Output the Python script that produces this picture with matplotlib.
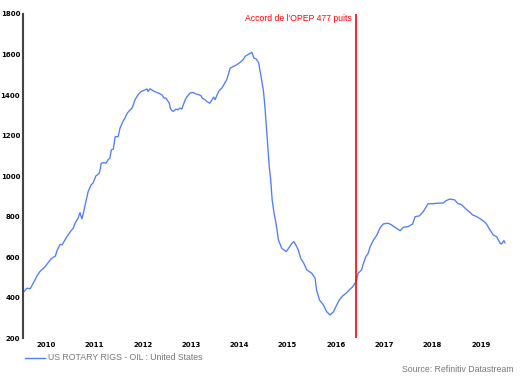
import matplotlib
matplotlib.use("Agg")
import matplotlib.pyplot as plt

# decimal years and US oil rig counts
years = [2010.02, 2010.10, 2010.17, 2010.23, 2010.31, 2010.37, 2010.48, 2010.54, 2010.60, 2010.64,
         2010.69, 2010.73, 2010.79, 2010.83, 2010.91, 2011.00, 2011.06, 2011.10, 2011.16, 2011.20,
         2011.24, 2011.27, 2011.33, 2011.37, 2011.43, 2011.47, 2011.53, 2011.60, 2011.62, 2011.64,
         2011.70, 2011.74, 2011.78, 2011.82, 2011.85, 2011.89, 2011.93, 2011.99, 2012.03, 2012.09,
         2012.13, 2012.18, 2012.24, 2012.28, 2012.34, 2012.40, 2012.47, 2012.55, 2012.59, 2012.61,
         2012.65, 2012.74, 2012.82, 2012.86, 2012.90, 2012.94, 2012.98, 2013.05, 2013.07, 2013.09,
         2013.13, 2013.19, 2013.23, 2013.27, 2013.31, 2013.34, 2013.38, 2013.42, 2013.48, 2013.54,
         2013.60, 2013.67, 2013.71, 2013.73, 2013.79, 2013.83, 2013.89, 2013.97, 2014.00, 2014.07,
         2014.14, 2014.24, 2014.31, 2014.45, 2014.54, 2014.58, 2014.62, 2014.68, 2014.76, 2014.80,
         2014.85, 2014.90, 2014.95, 2015.00, 2015.03, 2015.08, 2015.12, 2015.15, 2015.18, 2015.22,
         2015.26, 2015.31, 2015.38, 2015.47, 2015.52, 2015.59, 2015.63, 2015.67, 2015.72, 2015.77,
         2015.83, 2015.90, 2015.95, 2016.00, 2016.07, 2016.10, 2016.16, 2016.24, 2016.31, 2016.38,
         2016.45, 2016.50, 2016.57, 2016.64, 2016.71, 2016.78, 2016.85, 2016.92, 2016.96, 2017.03,
         2017.07, 2017.12, 2017.17, 2017.21, 2017.28, 2017.35, 2017.41, 2017.48, 2017.58, 2017.65,
         2017.72, 2017.83, 2017.90, 2018.00, 2018.09, 2018.14, 2018.23, 2018.31, 2018.41, 2018.52,
         2018.62, 2018.72, 2018.79, 2018.86, 2018.96, 2019.03, 2019.10, 2019.17, 2019.26, 2019.33,
         2019.42, 2019.50, 2019.57, 2019.62, 2019.69, 2019.76, 2019.83, 2019.90, 2019.93, 2019.98,
         2020.00]
rigs = [425, 447, 445, 471, 508, 529, 554, 573, 592, 598,
        606, 636, 664, 661, 694, 726, 743, 768, 793, 820,
        789, 817, 883, 924, 957, 966, 1001, 1015, 1036, 1064,
        1067, 1064, 1080, 1089, 1130, 1133, 1195, 1195, 1237, 1270,
        1286, 1311, 1327, 1336, 1377, 1401, 1418, 1426, 1430, 1418,
        1431, 1418, 1410, 1406, 1401, 1385, 1385, 1360, 1336, 1327,
        1319, 1331, 1327, 1336, 1331, 1352, 1377, 1393, 1410, 1413,
        1406, 1401, 1396, 1385, 1377, 1368, 1360, 1390, 1378, 1418,
        1435, 1476, 1533, 1550, 1566, 1575, 1591, 1600, 1611, 1583,
        1578, 1560, 1492, 1420, 1344, 1179, 1047, 982, 883, 817,
        768, 685, 644, 628, 644, 669, 677, 661, 636, 595,
        573, 537, 529, 521, 496, 439, 389, 365, 331, 315,
        331, 356, 389, 409, 422, 439, 455, 480, 521, 537,
        570, 603, 620, 652, 685, 710, 743, 764, 768, 760,
        748, 731, 748, 751, 764, 800, 804, 825, 864, 864,
        867, 867, 880, 887, 883, 864, 860, 843, 825, 809,
        800, 788, 776, 764, 735, 710, 701, 669, 665, 682,
        672]

year_labels = ["2010", "2011", "2012", "2013", "2014", "2015", "2016", "2017", "2018", "2019"]
y_ticks = [200, 400, 600, 800, 1000, 1200, 1400, 1600, 1800]
opec_date = 2016.915
opec_label = "Accord de l'OPEP 477 puits"
series_label = "US ROTARY RIGS - OIL : United States"
source_label = "Source: Refinitiv Datastream"

W, H = 520, 377
fig = plt.figure(figsize=(W / 100, H / 100), dpi=100)
x0, x1 = 23, 509.7
y_top, y_bot = 14, 338.3
ax = fig.add_axes([x0 / W, 1 - y_bot / H, (x1 - x0) / W, (y_bot - y_top) / H])

blue = "#4f7dfa"
ax.plot(years, rigs, color=blue, lw=0.95, solid_joinstyle="round")
ax.axvline(opec_date, color="#ff0000", lw=1.2)
ax.text(opec_date - 0.09, 1780, opec_label, color="#ff0000", fontsize=6.2,
        ha="right", va="center", family="Liberation Sans")

ax.set_xlim(2010.02, 2020.1)
ax.set_ylim(200, 1800)
for s in ["top", "right", "bottom"]:
    ax.spines[s].set_visible(False)
ax.spines["left"].set_color("#444444")
ax.spines["left"].set_linewidth(1.5)

ax.set_yticks(y_ticks)
ax.set_yticklabels([str(v) for v in y_ticks])
ax.set_xticks([int(y) + 0.5 for y in year_labels])
ax.set_xticklabels(year_labels)
ax.tick_params(axis="both", length=0, labelsize=5, colors="black")
ax.tick_params(axis="y", pad=2)
ax.tick_params(axis="x", pad=3)
for lab in ax.get_xticklabels() + ax.get_yticklabels():
    lab.set_fontweight("bold")
    lab.set_family("DejaVu Sans")

# legend
fig.add_artist(plt.Line2D([25 / W, 45 / W], [1 - 357.7 / H] * 2, color=blue, lw=1.0))
fig.text(48 / W, 1 - 357.7 / H, series_label, color="#777777", fontsize=6.3,
         va="center", ha="left", family="Liberation Sans")
fig.text(513 / W, 1 - 370 / H, source_label, color="#777777", fontsize=6.3,
         va="center", ha="right", family="Liberation Sans")

fig.savefig("out.png", dpi=100)
